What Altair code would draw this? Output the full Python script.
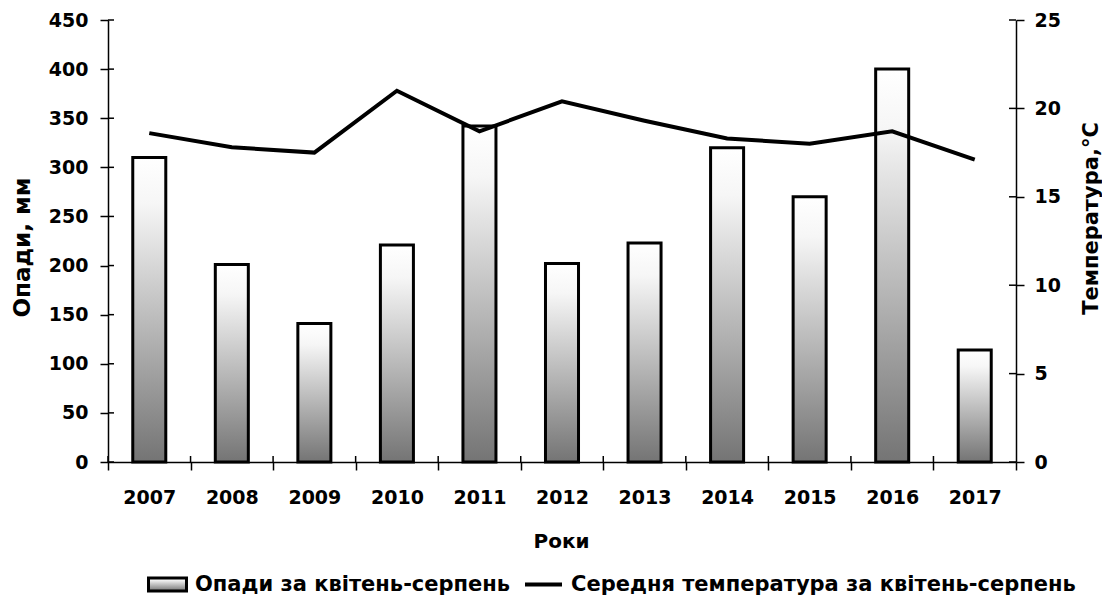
import altair as alt
import pandas as pd

years = ["2007", "2008", "2009", "2010", "2011", "2012", "2013", "2014", "2015", "2016", "2017"]
precip = [310, 201, 141, 221, 342, 202, 223, 320, 270, 400, 114]
temp = [18.6, 17.8, 17.5, 21.0, 18.7, 20.4, 19.3, 18.3, 18.0, 18.7, 17.1]
precip_ticks = [0, 50, 100, 150, 200, 250, 300, 350, 400, 450]
temp_ticks = [0, 5, 10, 15, 20, 25]
bar_name = "Опади за квітень-серпень"
line_name = "Середня температура за квітень-серпень"

df = pd.DataFrame({
    "Рік": years,
    "Опади": precip,
    "Температура": temp,
    "s_bar": [bar_name] * len(years),
    "s_line": [line_name] * len(years),
})
df_pt = pd.DataFrame({"v": precip_ticks})
df_tt = pd.DataFrame({"v": temp_ticks})

FONT = "DejaVu Sans"
W, H = 908, 442

grad = alt.Gradient(
    gradient="linear", x1=0, y1=0, x2=0, y2=1,
    stops=[
        alt.GradientStop(color="#ffffff", offset=0),
        alt.GradientStop(color="#f6f6f6", offset=0.15),
        alt.GradientStop(color="#747474", offset=1),
    ],
)

x_axis = alt.Axis(
    title="Роки", tickBand="extent", labelAngle=0, tickSize=8, labelPadding=18,
    titleX=453, titleY=79, titleBaseline="middle", titleAlign="center", titleFontSize=20,
)
x_enc = alt.X("Рік:N", sort=years, scale=alt.Scale(paddingInner=0, paddingOuter=0), axis=x_axis)

bars = alt.Chart(df).mark_bar(
    fill=grad, stroke="black", strokeWidth=3, width=alt.RelativeBandSize(0.4)
).encode(
    x=x_enc,
    y=alt.Y(
        "Опади:Q",
        scale=alt.Scale(domain=[0, 450], nice=False),
        axis=alt.Axis(
            values=precip_ticks, title="Опади, мм", orient="left", tickSize=8, labelPadding=12,
            titleAngle=270, titleX=-86, titleY=227, titleBaseline="middle", titleAlign="center",
            titleFontSize=23,
        ),
    ),
    stroke=alt.Stroke(
        "s_bar:N",
        scale=alt.Scale(range=["black"]),
        legend=alt.Legend(
            title=None, orient="none", legendX=39, legendY=544, padding=0,
            symbolType="M-1,-0.34L1,-0.34L1,0.34L-1,0.34Z", symbolSize=1444,
            symbolStrokeWidth=3, labelOffset=7,
        ),
    ),
)

line = alt.Chart(df).mark_line(stroke="black", strokeWidth=4, strokeJoin="miter").encode(
    x=x_enc,
    y=alt.Y(
        "Температура:Q",
        scale=alt.Scale(domain=[0, 25], nice=False),
        axis=alt.Axis(
            values=temp_ticks, title="Температура,°C", orient="right", tickSize=8, labelPadding=10,
            titleAngle=270, titleX=75, titleY=198, titleBaseline="middle", titleAlign="center",
            titleFontSize=21,
        ),
    ),
    stroke=alt.Stroke(
        "s_line:N",
        scale=alt.Scale(range=["black"]),
        legend=alt.Legend(
            title=None, orient="none", legendX=415, legendY=544, padding=0,
            symbolType="stroke", symbolSize=1369, symbolStrokeWidth=4, labelOffset=7,
        ),
    ),
)

# inner halves of the crossing ticks
left_ticks_in = alt.Chart(df_pt).mark_rule(color="black", strokeWidth=1.5).encode(
    y=alt.Y("v:Q", scale=alt.Scale(domain=[0, 450], nice=False), axis=None),
    x=alt.value(0), x2=alt.value(6),
)
right_ticks_in = alt.Chart(df_tt).mark_rule(color="black", strokeWidth=1.5).encode(
    y=alt.Y("v:Q", scale=alt.Scale(domain=[0, 25], nice=False), axis=None),
    x=alt.value(W - 7), x2=alt.value(W),
)
x_ticks_in = alt.Chart(df).mark_rule(color="black", strokeWidth=1.5).encode(
    x=alt.X("Рік:N", sort=years, bandPosition=0, axis=x_axis),
    y=alt.value(H - 6), y2=alt.value(H),
)

chart = alt.layer(bars, line, left_ticks_in, right_ticks_in, x_ticks_in).resolve_scale(
    y="independent", stroke="independent"
).properties(
    width=W, height=H,
    autosize=alt.AutoSizeParams(type="none"),
    padding={"left": 100, "top": 12, "right": 86, "bottom": 135},
).configure_view(
    stroke=None
).configure_axis(
    labelFont=FONT, labelFontSize=19, labelFontWeight="bold", labelColor="black",
    titleFont=FONT, titleFontSize=19, titleFontWeight="bold", titleColor="black",
    domainColor="black", domainWidth=1.5, tickColor="black", tickWidth=1.5,
    grid=False,
).configure_legend(
    labelFont=FONT, labelFontSize=21, labelFontWeight="bold", labelColor="black",
    labelLimit=0,
)

chart.save("out.html", embed_options={"renderer": "svg", "actions": False})
